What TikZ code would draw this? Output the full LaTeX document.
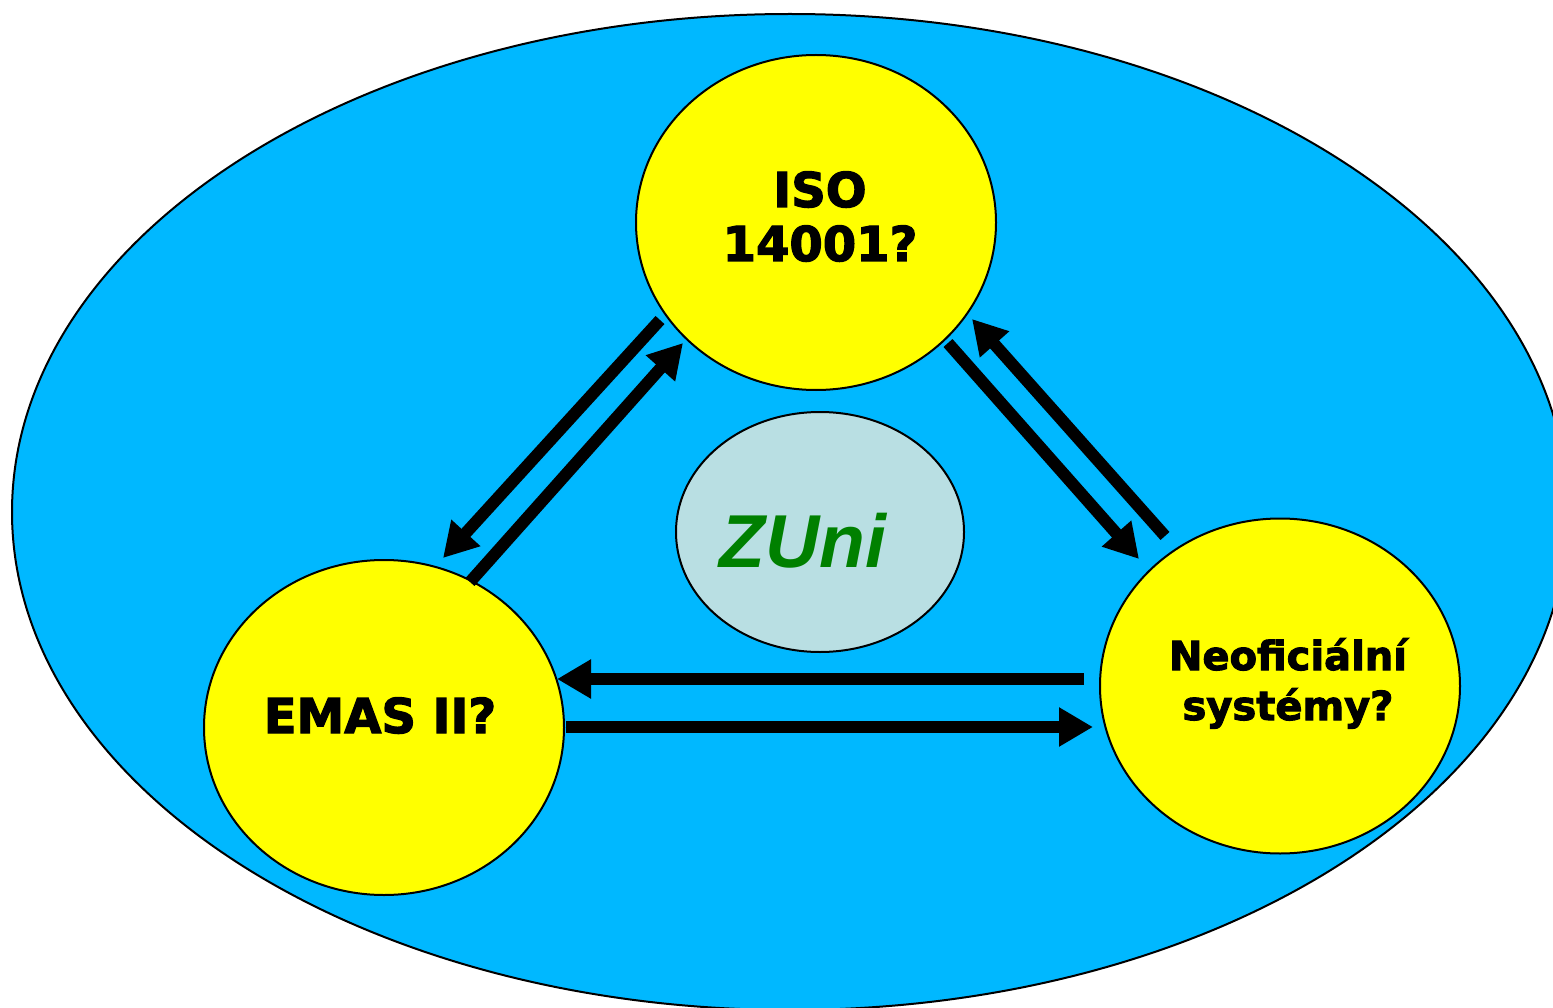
\documentclass[tikz,border=0pt]{standalone}
\usepackage{fontspec}
\newfontfamily\heavyfont{DejaVu Sans}[BoldFeatures={FakeBold=2.5}]
\newfontfamily\zunifont{Liberation Sans}
\usetikzlibrary{shapes.geometric,arrows.meta}
\definecolor{skyfill}{RGB}{0,184,255}
\definecolor{yellowfill}{RGB}{255,255,0}
\definecolor{zunifill}{RGB}{185,223,227}
\definecolor{zunigreen}{RGB}{0,128,0}
\begin{document}
\begin{tikzpicture}[x=1pt,y=-1pt,
  bubble/.style={ellipse, draw=black, line width=2pt, fill=yellowfill, minimum width=360pt, minimum height=335pt, inner sep=0pt},
  lbl/.style={anchor=base, inner sep=0pt, font=\heavyfont\bfseries\fontsize{48}{54}\selectfont},
  lblsmall/.style={anchor=base, inner sep=0pt, font=\heavyfont\bfseries\fontsize{40}{50}\selectfont},
  flow/.style={line width=12pt, -{Triangle[length=34pt,width=37pt]}}
]
\useasboundingbox (0,0) rectangle (1553,1008);
\fill[white] (0,0) rectangle (1553,1008);
\begin{scope}
  \clip (0,0) rectangle (1553,1008);
  \node[ellipse, draw=black, line width=2pt, fill=skyfill, minimum width=1556pt, minimum height=996pt, inner sep=0pt] (outer) at (790,512) {};
\end{scope}

\node[bubble] (iso) at (816,222.5) {};
\node[bubble] (emas) at (384,727.5) {};
\node[bubble] (neo) at (1280,686) {};
\node[ellipse, draw=black, line width=2pt, fill=zunifill, minimum width=288pt, minimum height=240pt, inner sep=0pt] (zuni) at (820,532) {};

\node[lbl] (isoa) at (820,207) {ISO};
\node[lbl] (isob) at (820,261) {14001?};
\node[lbl] (emast) at (380,733) {EMAS II?};
\node[lblsmall] (neoa) at (1288,670) {Neoficiální};
\node[lblsmall] (neob) at (1288,720) {systémy?};
\node[anchor=base, inner sep=0pt, text=zunigreen, font=\zunifont\bfseries\itshape\fontsize{75}{80}\selectfont] (zunit) at (803,567) {ZUni};

\coordinate (a1s) at ([shift={(-156,97.5)}]iso.center);
\coordinate (a2e) at ([shift={(-133,120.5)}]iso.center);
\coordinate (a3s) at ([shift={(132,120.5)}]iso.center);
\coordinate (a4e) at ([shift={(156,96.5)}]iso.center);
\coordinate (a1e) at ([shift={(59,-169.5)}]emas.center);
\coordinate (a2s) at ([shift={(86,-145.5)}]emas.center);
\coordinate (a5e) at ([shift={(173,-48.5)}]emas.center);
\coordinate (a6s) at ([shift={(182,-0.5)}]emas.center);
\coordinate (a3e) at ([shift={(-141,-127)}]neo.center);
\coordinate (a4s) at ([shift={(-115,-150)}]neo.center);
\coordinate (a5s) at ([shift={(-196,-7)}]neo.center);
\coordinate (a6e) at ([shift={(-187,41)}]neo.center);

\draw[flow] (a1s) -- (a1e);
\draw[flow] (a2s) -- (a2e);
\draw[flow] (a3s) -- (a3e);
\draw[flow] (a4s) -- (a4e);
\draw[flow] (a5s) -- (a5e);
\draw[flow] (a6s) -- (a6e);
\end{tikzpicture}
\end{document}
